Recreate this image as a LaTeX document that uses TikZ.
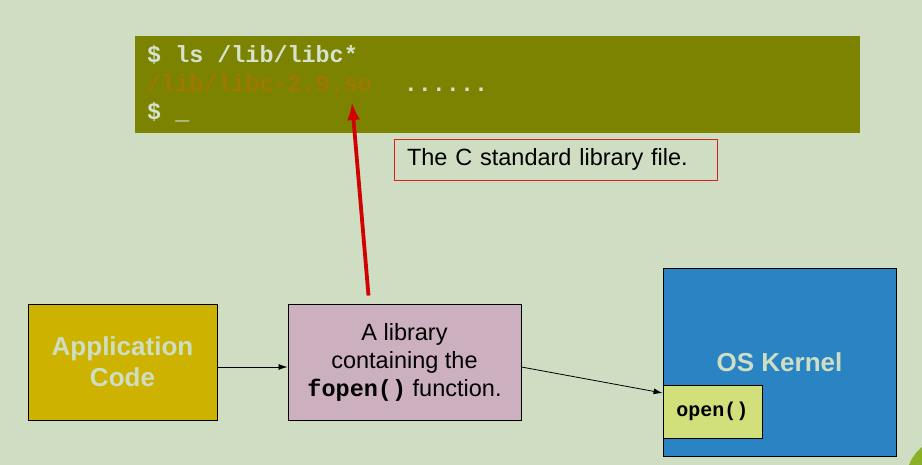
\documentclass[tikz,border=0pt]{standalone}
\usepackage{fontspec}
\usepackage{xcolor}
\setmainfont{Liberation Sans}
\setmonofont{Liberation Mono}
\usetikzlibrary{arrows.meta}

\definecolor{slidebg}{RGB}{207,222,195}
\definecolor{termbg}{RGB}{123,131,0}
\definecolor{termtext}{RGB}{214,226,204}
\definecolor{libfile}{RGB}{160,120,0}
\definecolor{appfill}{RGB}{205,179,0}
\definecolor{libfill}{RGB}{205,176,192}
\definecolor{kernfill}{RGB}{42,132,195}
\definecolor{openfill}{RGB}{209,224,122}
\definecolor{lighttext}{RGB}{205,222,196}
\definecolor{calloutred}{RGB}{220,30,30}
\definecolor{arrowred}{RGB}{210,0,0}
\definecolor{leaf}{RGB}{140,175,40}

\begin{document}
\begin{tikzpicture}[x=1pt, y=-1pt,
    every node/.style = {inner sep=0pt, align=center},
    box/.style 2 args = {shape=rectangle, draw=black, line width=0.9pt,
      minimum width=#1, minimum height=#2},
    termline/.style = {anchor=base west, text=termtext,
      font=\ttfamily\bfseries\fontsize{23.4}{28}\selectfont},
    arr/.style = {-{Latex[length=9pt,width=6pt]}, line width=0.8pt},
    redarr/.style = {-{Latex[length=18pt,width=13pt]}, line width=3.8pt, draw=arrowred}]
  \fill[slidebg] (0,0) rectangle (922,465);
  \fill[leaf] (922,447) .. controls (916,452) and (911,459) .. (909,465) -- (922,465) -- cycle;
  \node[fill=termbg, minimum width=725pt, minimum height=97pt] (term) at (497.5,84.5) {};
  \node[termline] (line1) at (147,63) {\$ ls /lib/libc*};
  \node[termline] (line2) at (147,92) {\textcolor{libfile}{/lib/libc-2.9.so}\ \ \,......};
  \node[termline] (line3) at (147,120) {\$ \_};
  \coordinate (sofile) at (352,102);
  \node[draw=calloutred, line width=0.8pt, text width=297pt, align=left,
    inner xsep=13pt, minimum height=41pt,
    font=\fontsize{23.5}{28}\selectfont] (note) at (555.5,159.5) {The C standard library file.};
  \node[box={189pt}{116pt}, fill=appfill, text=lighttext,
    font=\bfseries\fontsize{26}{31}\selectfont] (app) at (122.5,362) {Application\\Code};
  \node[box={233pt}{116pt}, fill=libfill,
    font=\fontsize{23.5}{28}\selectfont] (lib) at (404.5,362)
    {A library\\containing the\\\texttt{\textbf{fopen()}} function.};
  \node[box={233pt}{188pt}, fill=kernfill, text=lighttext,
    font=\bfseries\fontsize{26}{31}\selectfont] (kernel) at (779.5,362) {OS Kernel};
  \node[box={99pt}{53pt}, fill=openfill,
    font=\ttfamily\bfseries\fontsize{20}{24}\selectfont] (open) at (712.5,411.5) {open()};
  \draw[arr] ([yshift=-5pt]app.east) -- ([yshift=-5pt]lib.west);
  \draw[arr] ([yshift=-5pt]lib.east) -- ([yshift=18.5pt]open.west);
  \draw[redarr] ([xshift=-36pt,yshift=8pt]lib.north) -- (sofile);
\end{tikzpicture}
\end{document}
